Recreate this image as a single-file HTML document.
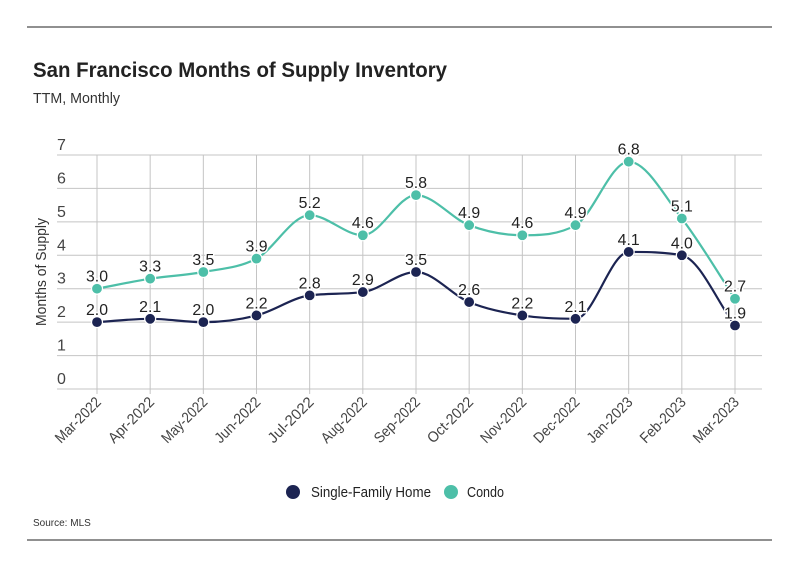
<!DOCTYPE html>
<html><head><meta charset="utf-8"><style>
body{margin:0;background:#fff;font-family:"Liberation Sans",sans-serif;}
svg text{font-family:"Liberation Sans",sans-serif;}
</style></head><body>
<svg id="c" width="799" height="575" viewBox="0 0 799 575">
<line x1="27" x2="772" y1="27" y2="27" stroke="#222" stroke-width="1"/>
<line x1="27" x2="772" y1="540" y2="540" stroke="#222" stroke-width="1"/>
<text x="33" y="77" font-size="21" font-weight="bold" fill="#222" textLength="414" lengthAdjust="spacingAndGlyphs">San Francisco Months of Supply Inventory</text>
<text x="33" y="103" font-size="15" fill="#333" textLength="87" lengthAdjust="spacingAndGlyphs">TTM, Monthly</text>
<text transform="translate(46,272) rotate(-90)" text-anchor="middle" font-size="15" fill="#333" textLength="108" lengthAdjust="spacingAndGlyphs">Months of Supply</text>
<g id="grid"></g><g id="lines"></g><g id="marks"></g>
<g>
<circle cx="293" cy="492" r="7" fill="#1c2452"/>
<text x="311" y="497" font-size="15" fill="#222" textLength="120" lengthAdjust="spacingAndGlyphs">Single-Family Home</text>
<circle cx="451" cy="492" r="7" fill="#4dbfa8"/>
<text x="467" y="497" font-size="15" fill="#222" textLength="37" lengthAdjust="spacingAndGlyphs">Condo</text>
</g>
<text x="33" y="526" font-size="10" fill="#333">Source:  MLS</text>
</svg>
<script>
const categories=["Mar-2022","Apr-2022","May-2022","Jun-2022","Jul-2022","Aug-2022","Sep-2022","Oct-2022","Nov-2022","Dec-2022","Jan-2023","Feb-2023","Mar-2023"];
const sfhValues=[2.0,2.1,2.0,2.2,2.8,2.9,3.5,2.6,2.2,2.1,4.1,4.0,1.9];
const condoValues=[3.0,3.3,3.5,3.9,5.2,4.6,5.8,4.9,4.6,4.9,6.8,5.1,2.7];
const yTicks=[0,1,2,3,4,5,6,7];
const NS="http://www.w3.org/2000/svg";
const x0=97,x1=735,yBase=389,yTop=155,yMax=7,plotL=57,plotR=762;
function xs(i){return x0+(x1-x0)*i/(categories.length-1);}
function ys(v){return yBase-(yBase-yTop)*v/yMax;}
function mk(t,a,p){const e=document.createElementNS(NS,t);for(const k in a)e.setAttribute(k,a[k]);p.appendChild(e);return e;}
const grid=document.getElementById('grid'),lines=document.getElementById('lines'),marks=document.getElementById('marks');
yTicks.forEach(v=>{
  const l=mk('line',{x1:plotL,x2:plotR,y1:ys(v),y2:ys(v),stroke:'#c4c4c4','stroke-width':1},grid);
  
  
  const t=mk('text',{x:57,y:ys(v)-5,'font-size':16,fill:'#444'},grid);t.textContent=v;
  
  
});
categories.forEach((c,i)=>{
  const l=mk('line',{x1:xs(i),x2:xs(i),y1:yTop,y2:yBase+5,stroke:'#c4c4c4','stroke-width':1},grid);
  
  
  const t=mk('text',{x:xs(i)+5,y:yBase+14,'font-size':15,fill:'#444','text-anchor':'end',textLength:58,lengthAdjust:'spacingAndGlyphs',transform:`rotate(-45 ${xs(i)+5} ${yBase+14})`},grid);t.textContent=c;
  
  
});
function monoPath(pts){
  const n=pts.length,d=[],m=[];
  for(let i=0;i<n-1;i++)d.push((pts[i+1][1]-pts[i][1])/(pts[i+1][0]-pts[i][0]));
  m[0]=d[0];m[n-1]=d[n-2];
  for(let i=1;i<n-1;i++){m[i]=(d[i-1]*d[i]<=0)?0:(d[i-1]+d[i])/2;}
  for(let i=0;i<n-1;i++){if(d[i]===0){m[i]=0;m[i+1]=0;continue;}const a=m[i]/d[i],b=m[i+1]/d[i],s=a*a+b*b;if(s>9){const t=3/Math.sqrt(s);m[i]=t*a*d[i];m[i+1]=t*b*d[i];}}
  let p=`M${pts[0][0]},${pts[0][1]}`;
  for(let i=0;i<n-1;i++){const h=(pts[i+1][0]-pts[i][0])/3;p+=`C${pts[i][0]+h},${pts[i][1]+m[i]*h} ${pts[i+1][0]-h},${pts[i+1][1]-m[i+1]*h} ${pts[i+1][0]},${pts[i+1][1]}`;}
  return p;
}
function series(vals,color,name){
  const pts=vals.map((v,i)=>[xs(i),ys(v)]);
  const p=mk('path',{d:monoPath(pts),fill:'none',stroke:color,'stroke-width':2.2},lines);
  
  
  vals.forEach((v,i)=>{
    const c=mk('circle',{cx:xs(i),cy:ys(v),r:5.5,fill:color,stroke:'#fff','stroke-width':1.2},marks);
    
    
    const t=mk('text',{x:xs(i),y:ys(v)-7,'font-size':16,fill:'#222','text-anchor':'middle',textLength:22,lengthAdjust:'spacingAndGlyphs',stroke:'#fff','stroke-width':3,'paint-order':'stroke'},marks);t.textContent=v.toFixed(1);
    
    
  });
}
series(sfhValues,'#1c2452','sfh');
series(condoValues,'#4dbfa8','condo');
</script>
</body></html>
